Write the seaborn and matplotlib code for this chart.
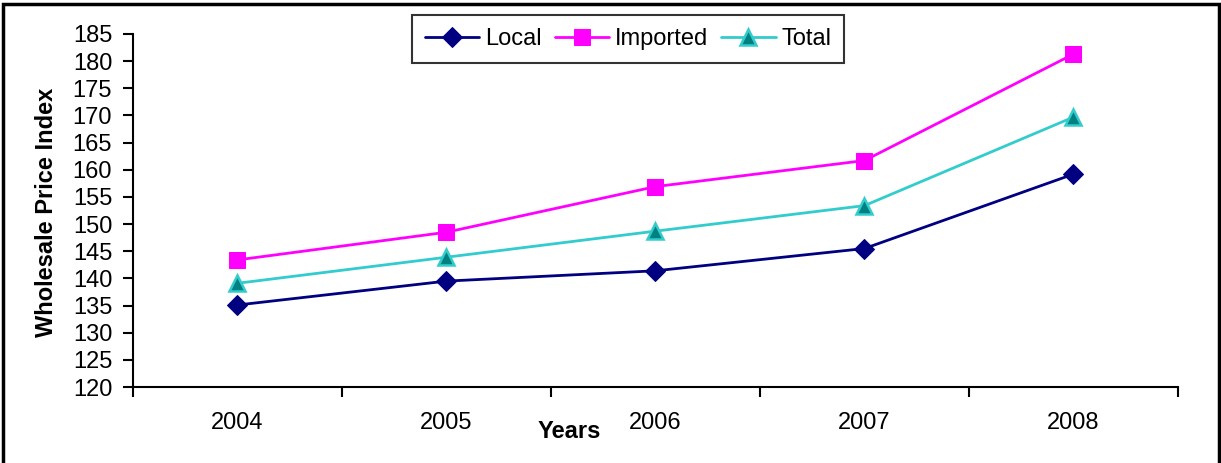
import pandas as pd
import matplotlib
matplotlib.use('Agg')
import matplotlib.pyplot as plt
import seaborn as sns
from matplotlib.patches import Rectangle
from matplotlib.ticker import MultipleLocator, FixedLocator

# Dados
years = [2004, 2005, 2006, 2007, 2008]
local = [135.1, 139.5, 141.4, 145.5, 159.2]
imported = [143.4, 148.5, 156.9, 161.7, 181.3]
total = [139.1, 143.9, 148.7, 153.4, 169.7]

df = pd.DataFrame({'Years': years, 'Local': local, 'Imported': imported, 'Total': total})

sns.set_style('white')
plt.rcParams['font.family'] = ['Liberation Sans', 'DejaVu Sans']
plt.rcParams['text.color'] = 'black'
plt.rcParams['xtick.color'] = 'black'
plt.rcParams['ytick.color'] = 'black'

fig = plt.figure(figsize=(12.21, 4.63), dpi=100)
ax = fig.add_axes([133/1221, 1 - 387/463, (1178 - 133)/1221, (387 - 34)/463])

sns.lineplot(data=df, x='Years', y='Local', ax=ax, color='#000080', marker='D',
             markersize=10, markeredgecolor='#000080', linewidth=2, label='Local')
sns.lineplot(data=df, x='Years', y='Imported', ax=ax, color='#FF00FF', marker='s',
             markersize=11.5, markeredgecolor='#FF00FF', linewidth=2, label='Imported')
sns.lineplot(data=df, x='Years', y='Total', ax=ax, color='#33CCCC', marker='^',
             markersize=12, markerfacecolor='#008080', markeredgecolor='#33CCCC',
             markeredgewidth=1.8, linewidth=2, label='Total')

ax.set_xlim(2003.5, 2008.5)
ax.set_ylim(120, 185)
ax.yaxis.set_major_locator(MultipleLocator(5))
ax.set_xticks(years)
ax.set_xticklabels([str(y) for y in years])
ax.xaxis.set_minor_locator(FixedLocator([y + 0.5 for y in [2003] + years]))
ax.tick_params(axis='x', which='major', length=0, pad=18, labelsize=17)
ax.tick_params(axis='x', which='minor', length=7, width=1.5, direction='out', color='black', bottom=True)
ax.tick_params(axis='y', length=7, width=1.5, direction='out', color='black', pad=8, labelsize=17, left=True)

for s in ['top', 'right']:
    ax.spines[s].set_visible(False)
for s in ['left', 'bottom']:
    ax.spines[s].set_color('black')
    ax.spines[s].set_linewidth(1.5)

ax.set_xlabel('')
ax.set_ylabel('')
fig.text(47/1221, 1 - 212/463, 'Wholesale Price Index', rotation=90, fontsize=17,
         fontweight='bold', ha='center', va='center')
fig.text(569/1221, 1 - 432/463, 'Years', fontsize=17, fontweight='bold', ha='center', va='center')

leg = ax.legend(loc='upper left', bbox_to_anchor=(412/1221, 1 - 15/463),
                bbox_transform=fig.transFigure, ncol=3, fontsize=17, frameon=True,
                fancybox=False, edgecolor='black', handlelength=2.3, handletextpad=0.25,
                columnspacing=0.55, borderpad=0.55, borderaxespad=0)
leg.get_frame().set_linewidth(1.5)

fig.patches.append(Rectangle((3/1221, -0.1), 1216/1221, 1.1 - 4/463, transform=fig.transFigure,
                             fill=False, edgecolor='black', linewidth=2.5))

plt.savefig('out.png', dpi=100)
